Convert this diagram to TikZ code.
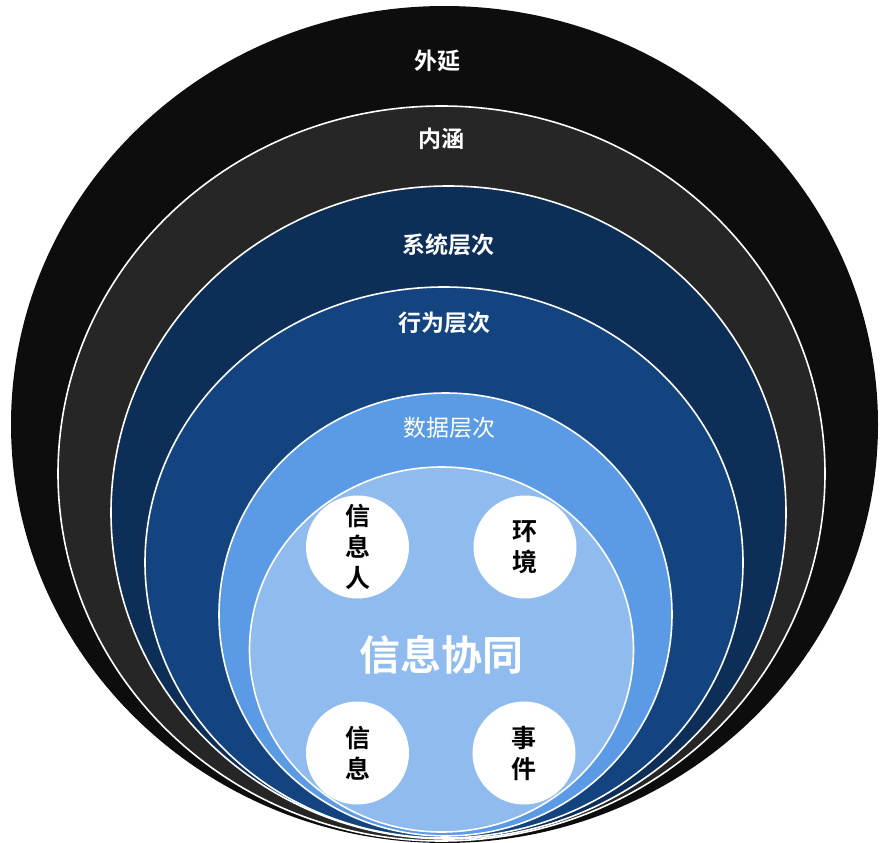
\documentclass[tikz,border=0pt]{standalone}
\usepackage{fontspec}
\newfontfamily\cjk{Noto Sans CJK SC}
\newfontfamily\cjkb{Noto Sans CJK SC Bold}
\definecolor{c0}{HTML}{0D0D0D}
\definecolor{c1}{HTML}{262626}
\definecolor{c2}{HTML}{0D2E56}
\definecolor{c3}{HTML}{144480}
\definecolor{c4}{HTML}{5B9BE5}
\definecolor{c5}{HTML}{8FBBEE}
\tikzset{
  ring/.style={draw=white, line width=1.6pt},
  lbl/.style={text=white, font=\cjkb\fontsize{23}{23}\selectfont, inner sep=0pt},
  lbllight/.style={text=white, font=\cjk\fontsize{23}{23}\selectfont, inner sep=0pt},
  disc/.style={circle, fill=white, minimum size=103pt, inner sep=0pt, align=center,
    font=\cjkb\fontsize{25}{31}\selectfont, text=black},
}
\begin{document}
\begin{tikzpicture}[x=1pt,y=-1pt]
\useasboundingbox (0,0) rectangle (884,843);
\fill[c0] (444.5,424.5) ellipse [x radius=433.5, y radius=418.5];
\filldraw[fill=c1, ring] (441.5,473.5) ellipse [x radius=383.5, y radius=367.5];
\filldraw[fill=c2, ring] (448.5,512.5) ellipse [x radius=337.5, y radius=326.5];
\filldraw[fill=c3, ring] (444,562.5) ellipse [x radius=299, y radius=275.5];
\filldraw[fill=c4, ring] (445.5,614.5) ellipse [x radius=226.5, y radius=221.5];
\filldraw[fill=c5, ring] (441.5,649.5) ellipse [x radius=192, y radius=182.5];
\node[lbl] (waiyan) at (437,61) {外延};
\node[lbl] (neihan) at (441,139) {内涵};
\node[lbl] (xitong) at (448,245) {系统层次};
\node[lbl] (xingwei) at (444,323) {行为层次};
\node[lbllight] (shuju) at (449,428) {数据层次};
\node[text=white, font=\cjkb\fontsize{41}{41}\selectfont, inner sep=0pt] (xietong) at (441,655) {信息协同};
\node[disc] (xinxiren) at (357.5,547) {信\\息\\人};
\node[disc] (huanjing) at (525,547) {环\\境};
\node[disc] (xinxi) at (357.5,753) {信\\息};
\node[disc] (shijian) at (524,753) {事\\件};
\end{tikzpicture}
\end{document}
